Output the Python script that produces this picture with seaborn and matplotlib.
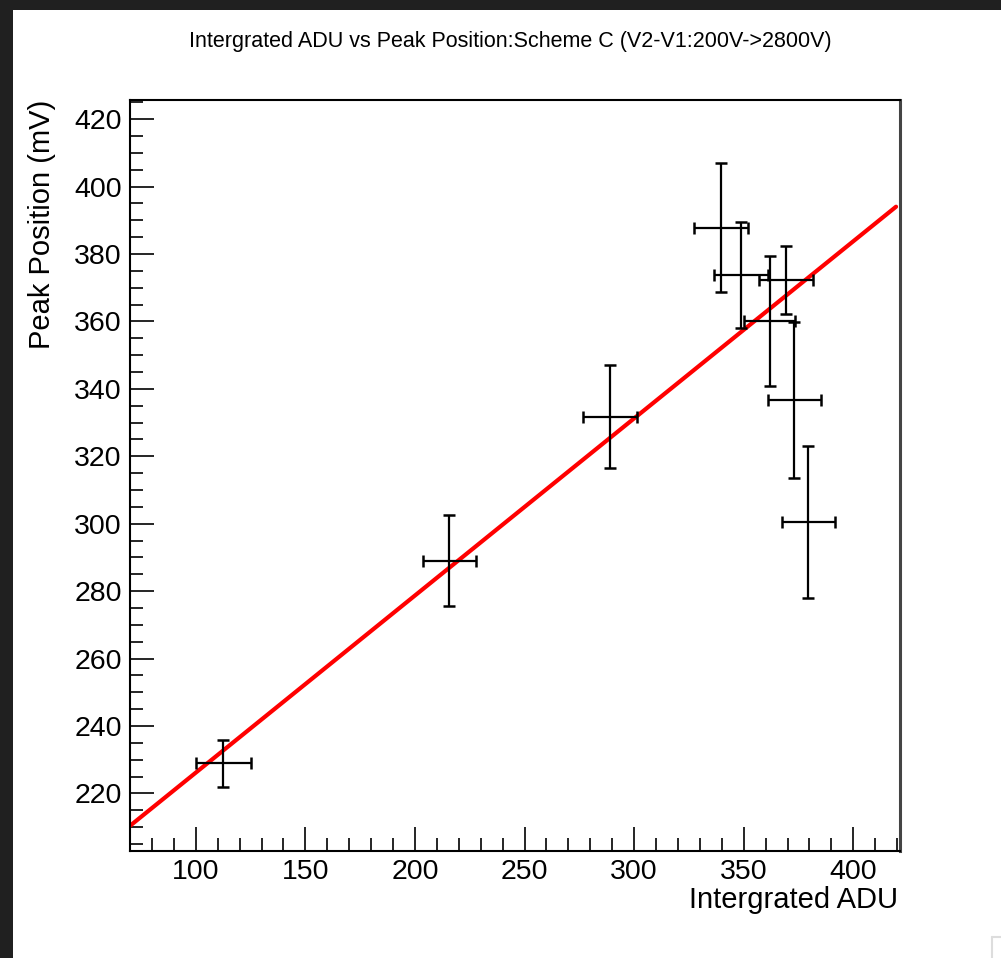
import numpy as np
import pandas as pd
import matplotlib
matplotlib.use("Agg")
import matplotlib.pyplot as plt
from matplotlib.ticker import MultipleLocator
from matplotlib.patches import Rectangle
from matplotlib.lines import Line2D
import seaborn as sns

# ---- data ----
adu = [112.6, 215.7, 289.0, 339.6, 348.8, 361.8, 369.3, 373.1, 379.5]
adu_err = [12.5, 12.2, 12.2, 12.5, 12.3, 11.8, 12.4, 12.2, 12.2]
peak = [228.9, 289.0, 331.7, 387.8, 373.9, 360.1, 372.3, 336.7, 300.6]
peak_err = [6.9, 13.5, 15.3, 19.2, 15.7, 19.2, 10.2, 23.1, 22.6]
fit_slope = 0.5255
fit_intercept = 173.6
fit_range = [70.0, 419.5]

title = "Intergrated ADU vs Peak Position:Scheme C (V2-V1:200V->2800V)"
xlabel = "Intergrated ADU"
ylabel = "Peak Position (mV)"

sns.set_theme(style="ticks")
plt.rcParams['font.family'] = ['Liberation Sans', 'DejaVu Sans']
plt.rcParams['text.color'] = 'black'

W, H = 1001, 958
fig = plt.figure(figsize=(W / 100, H / 100), dpi=100)
fig.patch.set_facecolor("white")
ax = fig.add_axes([130 / W, 1 - 850.7 / H, (900 - 130) / W, (850.7 - 100) / H])

fit_df = pd.DataFrame({"x": fit_range,
                       "y": [fit_slope * v + fit_intercept for v in fit_range]})
sns.lineplot(data=fit_df, x="x", y="y", ax=ax, color="#ff0000", linewidth=3.0, zorder=2)

ax.errorbar(adu, peak, xerr=adu_err, yerr=peak_err, fmt="none", ecolor="black",
            elinewidth=1.6, capsize=4.5, capthick=1.8, zorder=3)

ax.set_xlim(70, 421.3)
ax.set_ylim(203, 425.7)
ax.xaxis.set_major_locator(MultipleLocator(50))
ax.xaxis.set_minor_locator(MultipleLocator(10))
ax.yaxis.set_major_locator(MultipleLocator(20))
ax.yaxis.set_minor_locator(MultipleLocator(5))
ax.tick_params(which="major", direction="in", length=17, width=1.2, labelsize=20.5,
               colors="black", labelcolor="black", pad=6)
ax.tick_params(which="minor", direction="in", length=9.5, width=1.2, colors="black")
ax.tick_params(axis="x", which="both", top=False)
ax.tick_params(axis="y", which="both", right=False)
for s in ax.spines.values():
    s.set_color("black")
    s.set_linewidth(1.5)
ax.spines["right"].set_color("#444444")
ax.spines["right"].set_linewidth(2.2)

ax.set_xlabel("")
ax.set_ylabel("")
fig.text(898 / W, 1 - 900 / H, xlabel, ha="right", va="center", fontsize=21, color="black")
fig.text(42 / W, 1 - 100 / H, ylabel, ha="center", va="top", rotation=90, fontsize=21,
         color="black")
fig.text(510 / W, 1 - 41 / H, title, ha="center", va="center", fontsize=15.5, color="black")

# dark window frame
fig.patches.append(Rectangle((0, 1 - 10 / H), 1, 10 / H, transform=fig.transFigure,
                             facecolor="#202020", edgecolor="none", zorder=0))
fig.patches.append(Rectangle((0, 0), 13 / W, 1, transform=fig.transFigure,
                             facecolor="#202020", edgecolor="none", zorder=0))
fig.lines.append(Line2D([992 / W, 1], [1 - 937 / H, 1 - 937 / H], transform=fig.transFigure,
                        color="#dddddd", linewidth=1.5))
fig.lines.append(Line2D([992 / W, 992 / W], [1 - 937 / H, 0], transform=fig.transFigure,
                        color="#dddddd", linewidth=1.5))

fig.savefig("out.png", dpi=100, facecolor="white")
